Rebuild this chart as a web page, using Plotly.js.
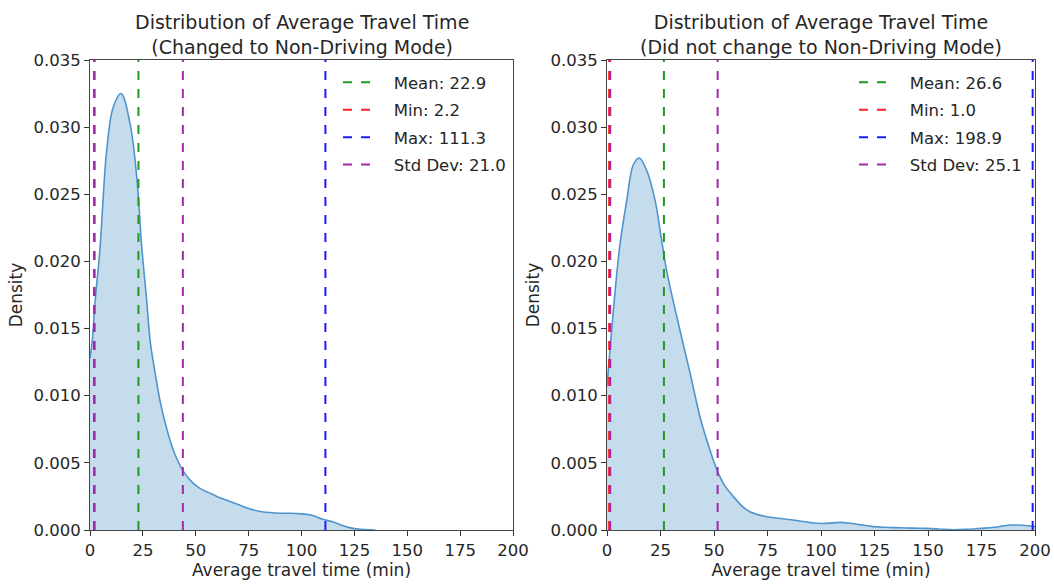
<!DOCTYPE html>
<html>
<head>
<meta charset="utf-8">
<script src="https://cdn.plot.ly/plotly-3.0.1.min.js"></script>
<style>html,body{margin:0;padding:0;background:#fff;}#chart{width:1054px;height:584px;}</style>
</head>
<body>
<div id="chart"></div>
<script>
// KDE curve of the "changed" group (x in minutes, density)
const changedX = [0, 1, 2.4, 4.7, 7.9, 11, 14.7, 18.9, 22.1, 24.4, 26.8, 28.5, 31, 33, 35.5, 38, 40, 44, 48, 52, 56, 60, 65, 70, 75, 80, 85, 90, 95, 100, 105, 110, 115, 120, 125, 130, 135];
const changedY = [0.0128, 0.0140, 0.0170, 0.0209, 0.0283, 0.0315, 0.0325, 0.0303, 0.0263, 0.0212, 0.0171, 0.0140, 0.0115, 0.0097, 0.0080, 0.0066, 0.0057, 0.0044, 0.0036, 0.0031, 0.0028, 0.0025, 0.0022, 0.0019, 0.0016, 0.0014, 0.0013, 0.00125, 0.00125, 0.0012, 0.0011, 0.0008, 0.0006, 0.0003, 0.0001, 0.00003, 0.0];

// KDE curve of the "did not change" group
const notChangedX = [0, 3, 6, 9.2, 12.3, 15.1, 18.5, 22.4, 25.5, 28, 32.6, 38.8, 43.5, 47, 51.3, 55, 59, 63, 66.8, 74.6, 80, 87, 98, 103, 108.9, 113.6, 118, 124.4, 130, 136.9, 143, 149.4, 155, 161.8, 168, 174.3, 181, 188.3, 194, 200];
const notChangedY = [0.0107, 0.0164, 0.0212, 0.0245, 0.0272, 0.0277, 0.0268, 0.0246, 0.0216, 0.0192, 0.0159, 0.0117, 0.0084, 0.0065, 0.0045, 0.0033, 0.0025, 0.0018, 0.00136, 0.00099, 0.00088, 0.00074, 0.0005, 0.0005, 0.00057, 0.0005, 0.0004, 0.00025, 0.0002, 0.00017, 0.00014, 0.00012, 0.00008, 0.00002, 0.00005, 0.00012, 0.0002, 0.00037, 0.00035, 0.00025];

// Summary statistics
const changedStats = {mean: 22.9, min: 2.2, max: 111.3, std: 21.0};
const notChangedStats = {mean: 26.6, min: 1.0, max: 198.9, std: 25.1};

const xTicks = [0, 25, 50, 75, 100, 125, 150, 175, 200];
const yTicks = [0, 0.005, 0.010, 0.015, 0.020, 0.025, 0.030, 0.035];

const titles = [
  "Distribution of Average Travel Time<br>(Changed to Non-Driving Mode)",
  "Distribution of Average Travel Time<br>(Did not change to Non-Driving Mode)"
];

const FONT = "DejaVu Sans, sans-serif";
const TXT = "#262626";
const KDE_LINE = "rgb(80,148,205)";
const KDE_FILL = "rgba(31,119,180,0.26)";
const COL = {mean: "#1f9a1f", min: "#ff2020", max: "#1a1aff", std: "#a02aaa"};
const YMAX = 0.035;
const PAD = "\u00A0\u00A0\u00A0"; // gap between legend line sample and label

function statTraces(s, xa, ya, leg) {
  const vline = (x, name, color, show) => ({
    x: [x, x], y: [0, YMAX], xaxis: xa, yaxis: ya, mode: "lines",
    line: {color: color, width: 2, dash: "dash"}, name: PAD + name,
    showlegend: show, legend: leg, hoverinfo: "skip", legendgroup: leg + name
  });
  return [
    vline(s.mean, "Mean: " + s.mean.toFixed(1), COL.mean, true),
    vline(s.min, "Min: " + s.min.toFixed(1), COL.min, true),
    vline(s.max, "Max: " + s.max.toFixed(1), COL.max, true),
    vline(+(s.mean - s.std).toFixed(1), "Std Dev: " + s.std.toFixed(1), COL.std, true),
    vline(+(s.mean + s.std).toFixed(1), "Std Dev: " + s.std.toFixed(1), COL.std, false)
  ];
}

const data = [
  {x: changedX, y: changedY, xaxis: "x", yaxis: "y", mode: "lines", line: {color: KDE_LINE, width: 1.6, shape: "spline"},
   fill: "tozeroy", fillcolor: KDE_FILL, showlegend: false, hoverinfo: "skip"},
  ...statTraces(changedStats, "x", "y", "legend"),
  {x: notChangedX, y: notChangedY, xaxis: "x2", yaxis: "y2", mode: "lines", line: {color: KDE_LINE, width: 1.6, shape: "spline"},
   fill: "tozeroy", fillcolor: KDE_FILL, showlegend: false, hoverinfo: "skip"},
  ...statTraces(notChangedStats, "x2", "y2", "legend2")
];

function xAxis(domain, anchor) {
  return {
    domain: domain, anchor: anchor, range: [0, 200], tickvals: xTicks, ticktext: xTicks.map(String),
    ticks: "outside", ticklen: 5, tickwidth: 1, tickcolor: "#333",
    showline: true, mirror: true, linecolor: "#444", linewidth: 1, showgrid: false, zeroline: false,
    tickfont: {family: FONT, size: 16.5, color: TXT},
    title: {text: "Average travel time (min)", font: {family: FONT, size: 17, color: TXT}, standoff: 5}
  };
}
function yAxis(domain, anchor) {
  return {
    domain: domain, anchor: anchor, range: [0, YMAX], tickvals: yTicks, ticktext: yTicks.map(v => v.toFixed(3)),
    ticks: "outside", ticklen: 5, tickwidth: 1, tickcolor: "#333",
    showline: true, mirror: true, linecolor: "#444", linewidth: 1, showgrid: false, zeroline: false,
    tickfont: {family: FONT, size: 16.5, color: TXT},
    title: {text: "Density", font: {family: FONT, size: 17, color: TXT}, standoff: 6}
  };
}

const legendBase = {
  yref: "paper", xref: "paper", yanchor: "top", xanchor: "left",
  bgcolor: "rgba(255,255,255,0.8)", borderwidth: 0,
  font: {family: FONT, size: 16.5, color: TXT}, tracegroupgap: 3, traceorder: "grouped",
  itemwidth: 30
};

const yd = [1 - 530 / 584, 1 - 60 / 584];
const layout = {
  width: 1054, height: 584,
  margin: {l: 0, r: 0, t: 0, b: 0},
  paper_bgcolor: "#fff", plot_bgcolor: "#fff",
  font: {family: FONT, color: TXT},
  xaxis: xAxis([90 / 1054, 513 / 1054], "y"),
  yaxis: yAxis(yd, "x"),
  xaxis2: xAxis([607 / 1054, 1035 / 1054], "y2"),
  yaxis2: yAxis(yd, "x2"),
  legend: Object.assign({}, legendBase, {x: 338 / 1054, y: 1 - 65 / 584}),
  legend2: Object.assign({}, legendBase, {x: 854 / 1054, y: 1 - 65 / 584}),
  annotations: [
    {text: titles[0], xref: "paper", yref: "paper", x: (90 + 513) / 2 / 1054, y: 1 - 9 / 584, yanchor: "top", xanchor: "center",
     showarrow: false, font: {family: FONT, size: 19, color: TXT}},
    {text: titles[1], xref: "paper", yref: "paper", x: (607 + 1035) / 2 / 1054, y: 1 - 9 / 584, yanchor: "top", xanchor: "center",
     showarrow: false, font: {family: FONT, size: 19, color: TXT}}
  ],
  showlegend: true
};

Plotly.newPlot("chart", data, layout, {staticPlot: true, displayModeBar: false});
</script>
</body>
</html>
